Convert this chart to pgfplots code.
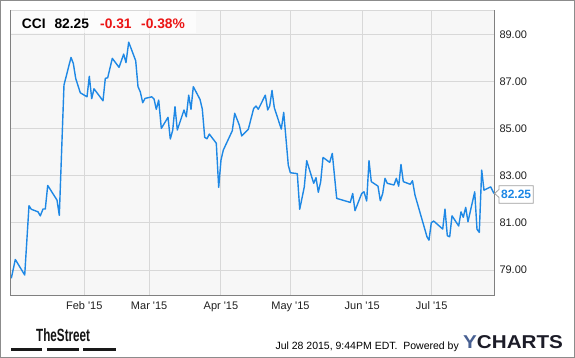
\documentclass[border=0pt]{standalone}
\usepackage{fontspec}
\setmainfont{Liberation Sans}
\usepackage{pgfplots}
\pgfplotsset{compat=1.18}
\definecolor{cciblue}{RGB}{30,136,229}
\definecolor{gridc}{RGB}{216,216,216}
\definecolor{bgc}{RGB}{247,247,247}
\definecolor{axc}{RGB}{128,128,128}
\definecolor{framec}{RGB}{140,140,140}
\definecolor{redc}{RGB}{235,20,20}
\definecolor{yblue}{RGB}{72,96,146}
\definecolor{ydark}{RGB}{28,28,40}
\definecolor{tagc}{RGB}{160,160,160}

\pgfplotstableread{
d v
-0.52 78.65
1.21 79.45
5.27 78.79
7.12 81.73
8.12 81.58
11.01 81.47
12.0 81.30
13.17 81.59
14.16 81.59
15.2 82.59
19.21 81.97
20.21 81.32
22.23 86.85
25.26 88.02
26.25 87.77
27.29 87.13
29.27 86.52
32.17 86.35
33.16 87.22
34.2 86.27
35.19 86.69
39.07 86.18
40.07 87.13
41.1 87.16
43.09 87.98
46.0 87.60
48.0 88.16
49.0 87.80
50.17 88.67
53.19 87.88
54.19 86.78
55.18 86.56
56.22 86.10
57.21 86.28
60.1 86.35
61.1 86.26
62.09 85.82
63.12 86.21
64.25 85.01
67.14 85.48
68.13 84.56
69.17 84.93
70.16 85.93
71.16 84.94
74.05 85.79
75.04 85.50
76.08 86.42
77.07 85.82
78.06 86.78
80.96 86.24
81.95 85.83
82.99 84.63
83.98 84.57
84.97 84.77
87.99 84.38
89.03 82.51
90.02 83.67
91.02 84.09
94.9 84.91
95.94 85.65
97.93 85.15
98.96 84.69
101.81 84.97
104.14 85.86
105.14 85.96
106.13 85.82
109.15 86.42
110.19 85.79
111.05 85.96
112.05 86.62
113.04 85.89
116.06 84.98
117.1 85.69
119.08 83.45
119.95 83.13
122.97 83.09
124.01 81.58
125.99 82.53
127.03 83.64
130.05 82.68
131.04 82.92
132.04 82.30
133.07 82.75
134.07 83.78
136.96 83.57
138.08 83.95
139.98 82.04
144.86 81.90
145.85 81.87
146.89 82.25
147.88 81.52
150.78 82.25
151.77 82.32
152.93 81.93
153.93 83.64
154.92 82.75
157.81 82.56
158.81 81.94
159.84 82.25
160.84 82.89
161.83 82.68
164.72 82.61
165.72 82.89
166.75 82.56
167.74 83.48
168.74 82.75
171.76 82.64
172.7 82.79
173.79 82.18
178.97 80.41
179.83 80.27
180.83 81.01
181.86 81.08
185.75 80.74
186.74 81.59
187.74 80.46
188.77 80.41
189.77 81.30
192.66 80.87
193.65 81.47
194.64 81.24
195.68 81.66
196.67 81.05
199.57 82.32
200.56 80.73
201.55 80.60
202.59 83.24
203.58 82.39
206.47 82.53
207.9 82.25
}\cci

\begin{document}
\begin{tikzpicture}[x=1pt,y=1pt]
\begin{axis}[
  at={(0,0)}, anchor=south west,
  scale only axis, width=483.6pt, height=285pt,
  xmin=-0.78, xmax=208.03, ymin=77.93, ymax=90.02,
  clip=false,
  axis background/.style={fill=bgc},
  axis line style={draw=none},
  major tick length=0pt,
  tick style={draw=none},
  grid=major,
  grid style={gridc, line width=1pt},
  xtick={31,59,90,120,151,181},
  xticklabels={Feb \textquotesingle 15, Mar \textquotesingle 15, Apr \textquotesingle 15, May \textquotesingle 15, Jun \textquotesingle 15, Jul \textquotesingle 15},
  ytick={79,81,83,85,87,89},
  yticklabel pos=right,
  /pgf/number format/.cd, fixed, fixed zerofill, precision=2, assume math mode=true,
  /pgfplots/.cd,
  tick label style={font=\fontsize{11}{13}\selectfont, text=black!88},
  xticklabel style={anchor=north, inner sep=0pt, yshift=-6.4pt},
  yticklabel style={anchor=west, inner sep=0pt, xshift=5pt},
]
\addplot[cciblue, line width=1.4pt, line join=round, mark=none] table[x=d, y=v] {\cci};
\draw[gridc, line width=1pt] (rel axis cs:0,1) -- (rel axis cs:1,1);
\draw[axc, line width=1pt] (rel axis cs:0,1) -- (rel axis cs:0,0) -- (rel axis cs:1,0) -- (rel axis cs:1,1);
\fill[white, opacity=0.65] ([xshift=0.6pt,yshift=-0.6pt]rel axis cs:0,1) rectangle ([xshift=185.6pt,yshift=-23.2pt]rel axis cs:0,1);
% last value tag
\coordinate (tip) at (axis cs:208.03,82.25);
\draw[tagc, fill=white, line width=0.8pt]
  ([xshift=0.3pt]tip) -- ([xshift=4.7pt,yshift=4pt]tip) -- ([xshift=4.7pt,yshift=7.8pt]tip)
  -- ([xshift=39pt,yshift=7.8pt]tip) -- ([xshift=39pt,yshift=-9.8pt]tip)
  -- ([xshift=4.7pt,yshift=-9.8pt]tip) -- ([xshift=4.7pt,yshift=-4pt]tip) -- cycle;
\node[anchor=center, inner sep=0pt, text=cciblue, font=\fontsize{12}{14}\selectfont\bfseries] at ([xshift=21.85pt,yshift=-1pt]tip) {82.25};
\end{axis}
% title
\begin{scope}[every node/.style={anchor=base west, inner sep=0pt, font=\fontsize{13.8}{16}\selectfont\bfseries}]
\node[text=black] at (11.0,266.6) {CCI};
\node[text=black] at (43.6,266.6) {82.25};
\node[text=redc] at (89.3,266.6) {-0.31};
\node[text=redc] at (130.3,266.6) {-0.38\%};
\end{scope}
% footer
\node[anchor=base west, inner sep=0pt, text=black!92, font=\fontsize{17.7}{20}\selectfont\bfseries] at (25.3,-46.4) {\scalebox{0.66}[1]{TheStreet}};
\fill[black!90] (0,-52.4) rectangle (31.5,-55.4);
\fill[black!90] (36,-52.4) rectangle (68.3,-55.4);
\fill[black!90] (72.6,-52.4) rectangle (105,-55.4);
\node[anchor=base east, inner sep=0pt, text=black, font=\fontsize{10.5}{12}\selectfont] at (448.3,-54) {Jul 28 2015, 9:44PM EDT.\ \ Powered by};
\node[anchor=base west, inner sep=0pt, font=\fontsize{18.6}{20}\selectfont\bfseries] at (452.3,-53.7) {\scalebox{1.11}[1]{\textcolor{yblue}{Y}\textcolor{ydark}{CHARTS}}};
% outer frame
\draw[framec, line width=1.3pt] (-10.05,-62.05) rectangle (563.65,294.65);
\pgfresetboundingbox
\path[use as bounding box] (-10.7,-62.7) rectangle (564.3,295.3);
\end{tikzpicture}
\end{document}
